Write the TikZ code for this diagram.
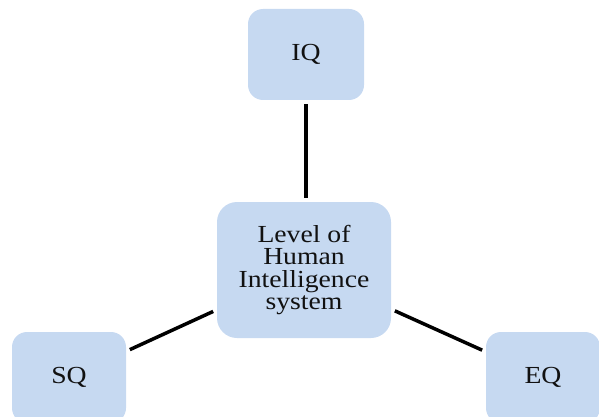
\documentclass[tikz,border=0pt]{standalone}
\usepackage{fontspec}
\setmainfont{Liberation Serif}[FakeStretch=1.13]
\usepackage{tikz}
\definecolor{boxblue}{HTML}{C6D9F1}
\definecolor{txt}{HTML}{111111}

\begin{document}
\begin{tikzpicture}
			[x=1pt,y=-1pt,
			q/.style= {font=\fontsize{24.5}{22.4}\selectfont,text=txt,fill=boxblue,rounded corners=15pt,inner sep=0pt,minimum width=116pt,minimum height=91pt,align=center},
			link/.style= {line width=3.5pt,black,shorten <=4pt,shorten >=4pt}]

			\useasboundingbox (0,0) rectangle (599,417);
			\clip (0,0) rectangle (599,417);

			\node[q,minimum width=174pt,minimum height=136pt,rounded corners=20pt] (lvl) at (304,270) {Level of\\Human\\Intelligence\\system};

			\node[q] (iq) at (306,54.5) {IQ};

			\node[q,minimum width=114pt] (sq) at (69,377.5) {SQ};

			\node[q,minimum width=114pt] (eq) at (543,377.5) {EQ};

			\draw[link] (iq.south) -- (iq.south |- lvl.north);
			\draw[link] (sq) -- (lvl);
			\draw[link] (eq) -- (lvl);

		\end{tikzpicture}
\end{document}
